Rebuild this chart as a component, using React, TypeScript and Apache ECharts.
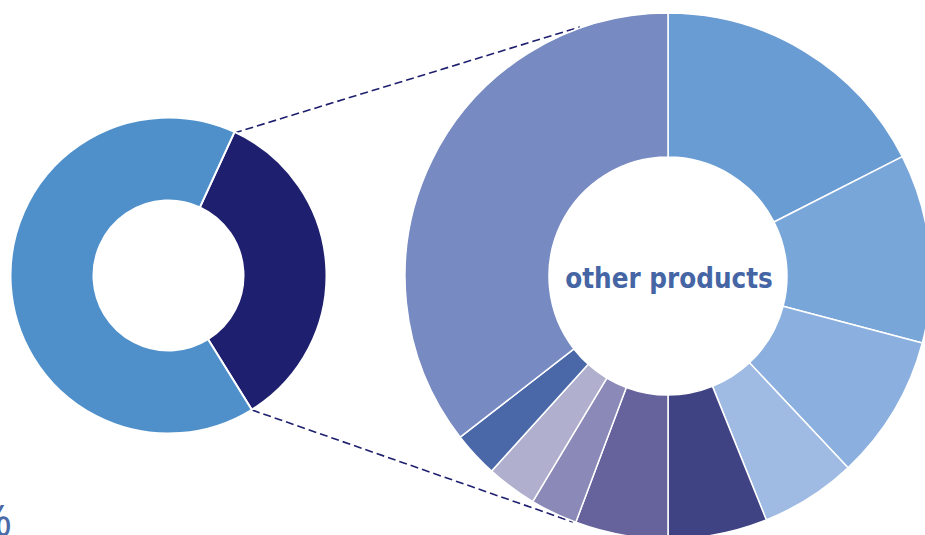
import React, { useEffect, useRef } from "react";
import * as echarts from "echarts";

const mainCategories = ["Main products", "Other products"];
const mainValues = [65.7, 34.3];
const mainColors = ["#4f90cb", "#1e1f6e"];

const otherCategories = [
  "Product 1",
  "Product 2",
  "Product 3",
  "Product 4",
  "Product 5",
  "Product 6",
  "Product 7",
  "Product 8",
  "Product 9",
  "Product 10",
];
const otherValues = [17.5, 11.6, 8.9, 5.9, 6.1, 5.7, 2.9, 3.1, 2.8, 35.5];
const otherColors = [
  "#6a9cd4",
  "#79a6d9",
  "#8bb0df",
  "#9fbbe3",
  "#3f4283",
  "#65629c",
  "#8b89b8",
  "#b0afce",
  "#4a68a8",
  "#778ac1",
];

const centerLabel = "other products";
const percentLabel = "%";

export default function App() {
  const ref = useRef<HTMLDivElement>(null);

  useEffect(() => {
    if (!ref.current) return;
    const chart = echarts.init(ref.current, null, { renderer: "svg" });
    const mainData = [
      { name: mainCategories[1], value: mainValues[1], itemStyle: { color: mainColors[1] } },
      { name: mainCategories[0], value: mainValues[0], itemStyle: { color: mainColors[0] } },
    ];
    const otherData = otherCategories.map((c, i) => ({
      name: c,
      value: otherValues[i],
      itemStyle: { color: otherColors[i] },
    }));
    chart.setOption({
      animation: false,
      backgroundColor: "#ffffff",
      graphic: [
        {
          type: "line",
          z: 0,
          shape: { x1: 234, y1: 133, x2: 580, y2: 27 },
          style: { stroke: "#1e1f6e", lineWidth: 1.6, lineDash: [8, 4] },
        },
        {
          type: "line",
          z: 0,
          shape: { x1: 252, y1: 410, x2: 573, y2: 522 },
          style: { stroke: "#1e1f6e", lineWidth: 1.6, lineDash: [8, 4] },
        },
        {
          type: "text",
          z: 100,
          x: 669,
          y: 278,
          style: {
            text: centerLabel,
            fill: "#4565a5",
            font: "bold 27.5px 'Liberation Sans Narrow', 'DejaVu Sans Condensed', sans-serif",
            textAlign: "center",
            textVerticalAlign: "middle",
          },
        },
        {
          type: "text",
          z: 100,
          x: 12,
          y: 497,
          style: {
            text: percentLabel,
            fill: "#4a6aa8",
            font: "44px 'Noto Sans', sans-serif",
            textAlign: "right",
            textVerticalAlign: "top",
          },
        },
      ],
      series: [
        {
          type: "pie",
          center: [168.5, 275.5],
          radius: [75, 158],
          startAngle: 65.3,
          clockwise: true,
          label: { show: false },
          labelLine: { show: false },
          silent: true,
          itemStyle: { borderColor: "#ffffff", borderWidth: 2 },
          data: mainData,
        },
        {
          type: "pie",
          center: [668, 276],
          radius: [119, 263],
          startAngle: 90,
          clockwise: true,
          label: { show: false },
          labelLine: { show: false },
          silent: true,
          itemStyle: { borderColor: "#ffffff", borderWidth: 1.5 },
          data: otherData,
        },
      ],
    });
    return () => chart.dispose();
  }, []);

  return (
    <div
      ref={ref}
      style={{ position: "fixed", left: 0, top: 0, width: 925, height: 535 }}
    />
  );
}
